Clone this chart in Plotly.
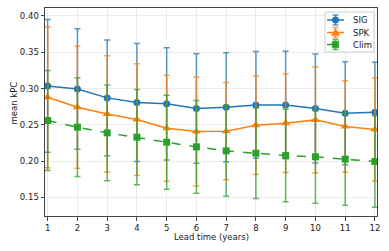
import plotly.graph_objects as go

lead = list(range(1, 13))

sig_mean = [0.3037, 0.2995, 0.2872, 0.2807, 0.2790, 0.2725, 0.2743, 0.2775, 0.2775, 0.2725, 0.2660, 0.2674]
sig_err = [0.0915, 0.0830, 0.0798, 0.0813, 0.0774, 0.0755, 0.0752, 0.0735, 0.0740, 0.0750, 0.0710, 0.0688]

spk_mean = [0.2881, 0.2743, 0.2651, 0.2573, 0.2454, 0.2408, 0.2413, 0.2495, 0.2523, 0.2569, 0.2477, 0.2436]
spk_err = [0.0970, 0.0840, 0.0800, 0.0770, 0.0730, 0.0750, 0.0670, 0.0680, 0.0680, 0.0730, 0.0630, 0.0710]

clim_mean = [0.2560, 0.2468, 0.2390, 0.2330, 0.2261, 0.2197, 0.2142, 0.2110, 0.2078, 0.2060, 0.2028, 0.1995]
clim_err = [0.0690, 0.0680, 0.0660, 0.0656, 0.0646, 0.0638, 0.0624, 0.0624, 0.0638, 0.0638, 0.0634, 0.0628]

y_ticks = [0.15, 0.20, 0.25, 0.30, 0.35, 0.40]

series = [
    ("SIG", sig_mean, sig_err, "#1f77b4", "rgba(31,119,180,0.75)", "circle", "solid", 7),
    ("SPK", spk_mean, spk_err, "#ff7f0e", "rgba(255,127,14,0.75)", "triangle-up", "solid", 8),
    ("Clim", clim_mean, clim_err, "#2ca02c", "rgba(44,160,44,0.75)", "square", "dash", 7),
]

W, H = 389, 251
ML, MR, MT, MB = 45, 12, 8, 35
PW, PH = W - ML - MR, H - MT - MB


def px(x):
    return (x - ML) / PW


def py(y):
    return (H - MB - y) / PH


fig = go.Figure()
for name, m, e, col, ecol, sym, dash, ms in series:
    fig.add_trace(go.Scatter(
        x=lead, y=m, name=name, mode="lines+markers",
        line=dict(color=col, width=1.5, dash=dash),
        marker=dict(symbol=sym, size=ms, color=col),
        error_y=dict(type="data", array=e, visible=True, color=ecol, thickness=1.5, width=3),
        showlegend=False,
    ))

FS = 8.5
font = "DejaVu Sans, sans-serif"

shapes = []
annotations = []
# legend box
shapes.append(dict(type="rect", xref="paper", yref="paper",
                   x0=px(325), x1=px(374), y0=py(12), y1=py(52),
                   line=dict(color="#d0d0d0", width=1), fillcolor="rgba(255,255,255,0.8)", layer="above"))
item_y = [20, 32.5, 44.5]
for (name, m, e, col, ecol, sym, dash, ms), yy in zip(series, item_y):
    cx = 335.5
    shapes.append(dict(type="line", xref="paper", yref="paper", x0=px(327), x1=px(344), y0=py(yy), y1=py(yy),
                       line=dict(color=col, width=1.5, dash=dash), layer="above"))
    shapes.append(dict(type="line", xref="paper", yref="paper", x0=px(cx), x1=px(cx), y0=py(yy - 5), y1=py(yy + 5),
                       line=dict(color=ecol, width=1.5), layer="above"))
    for cy in (yy - 5, yy + 5):
        shapes.append(dict(type="line", xref="paper", yref="paper", x0=px(cx - 3), x1=px(cx + 3), y0=py(cy), y1=py(cy),
                           line=dict(color=ecol, width=1.5), layer="above"))
    r = 3.3
    if sym == "circle":
        shapes.append(dict(type="circle", xref="paper", yref="paper", x0=px(cx - r), x1=px(cx + r),
                           y0=py(yy - r), y1=py(yy + r), fillcolor=col, line=dict(color=col, width=0.5), layer="above"))
    elif sym == "square":
        shapes.append(dict(type="rect", xref="paper", yref="paper", x0=px(cx - r), x1=px(cx + r),
                           y0=py(yy - r), y1=py(yy + r), fillcolor=col, line=dict(color=col, width=0.5), layer="above"))
    else:
        path = "M %f %f L %f %f L %f %f Z" % (px(cx), py(yy - 4), px(cx - 4), py(yy + 3), px(cx + 4), py(yy + 3))
        shapes.append(dict(type="path", xref="paper", yref="paper", path=path,
                           fillcolor=col, line=dict(color=col, width=0.5), layer="above"))
    annotations.append(dict(text=name, xref="paper", yref="paper", x=px(351), y=py(yy),
                            xanchor="left", yanchor="middle", showarrow=False,
                            font=dict(family=font, size=FS, color="#222")))

annotations.append(dict(text="Lead time (years)", xref="paper", yref="paper", x=px(211), y=py(236.5),
                        xanchor="center", yanchor="middle", showarrow=False,
                        font=dict(family=font, size=FS, color="#222")))
annotations.append(dict(text="mean kPC", xref="paper", yref="paper", x=px(13.5), y=py(103),
                        xanchor="center", yanchor="middle", showarrow=False, textangle=-90,
                        font=dict(family=font, size=FS, color="#222")))

fig.update_layout(
    width=W, height=H,
    margin=dict(l=ML, r=MR, t=MT, b=MB, autoexpand=False),
    paper_bgcolor="white", plot_bgcolor="white",
    font=dict(family=font, size=FS, color="#222"),
    showlegend=False,
    shapes=shapes,
    annotations=annotations,
    xaxis=dict(range=[0.91, 12.07], tickmode="array", tickvals=lead,
               showgrid=True, gridcolor="#ebebeb", gridwidth=1,
               showline=True, linecolor="#444", linewidth=1, mirror=True,
               ticks="outside", ticklen=3.5, tickcolor="#444",
               zeroline=False, automargin=False),
    yaxis=dict(range=[0.1245, 0.411], tickmode="array", tickvals=y_ticks,
               ticktext=["%.2f" % v for v in y_ticks],
               showgrid=True, gridcolor="#ebebeb", gridwidth=1,
               showline=True, linecolor="#444", linewidth=1, mirror=True,
               ticks="outside", ticklen=3.5, tickcolor="#444",
               zeroline=False, automargin=False),
)

fig.write_html("out.html", config={"displayModeBar": False},
               post_script="document.body.style.margin='0';document.body.style.overflow='hidden';")
